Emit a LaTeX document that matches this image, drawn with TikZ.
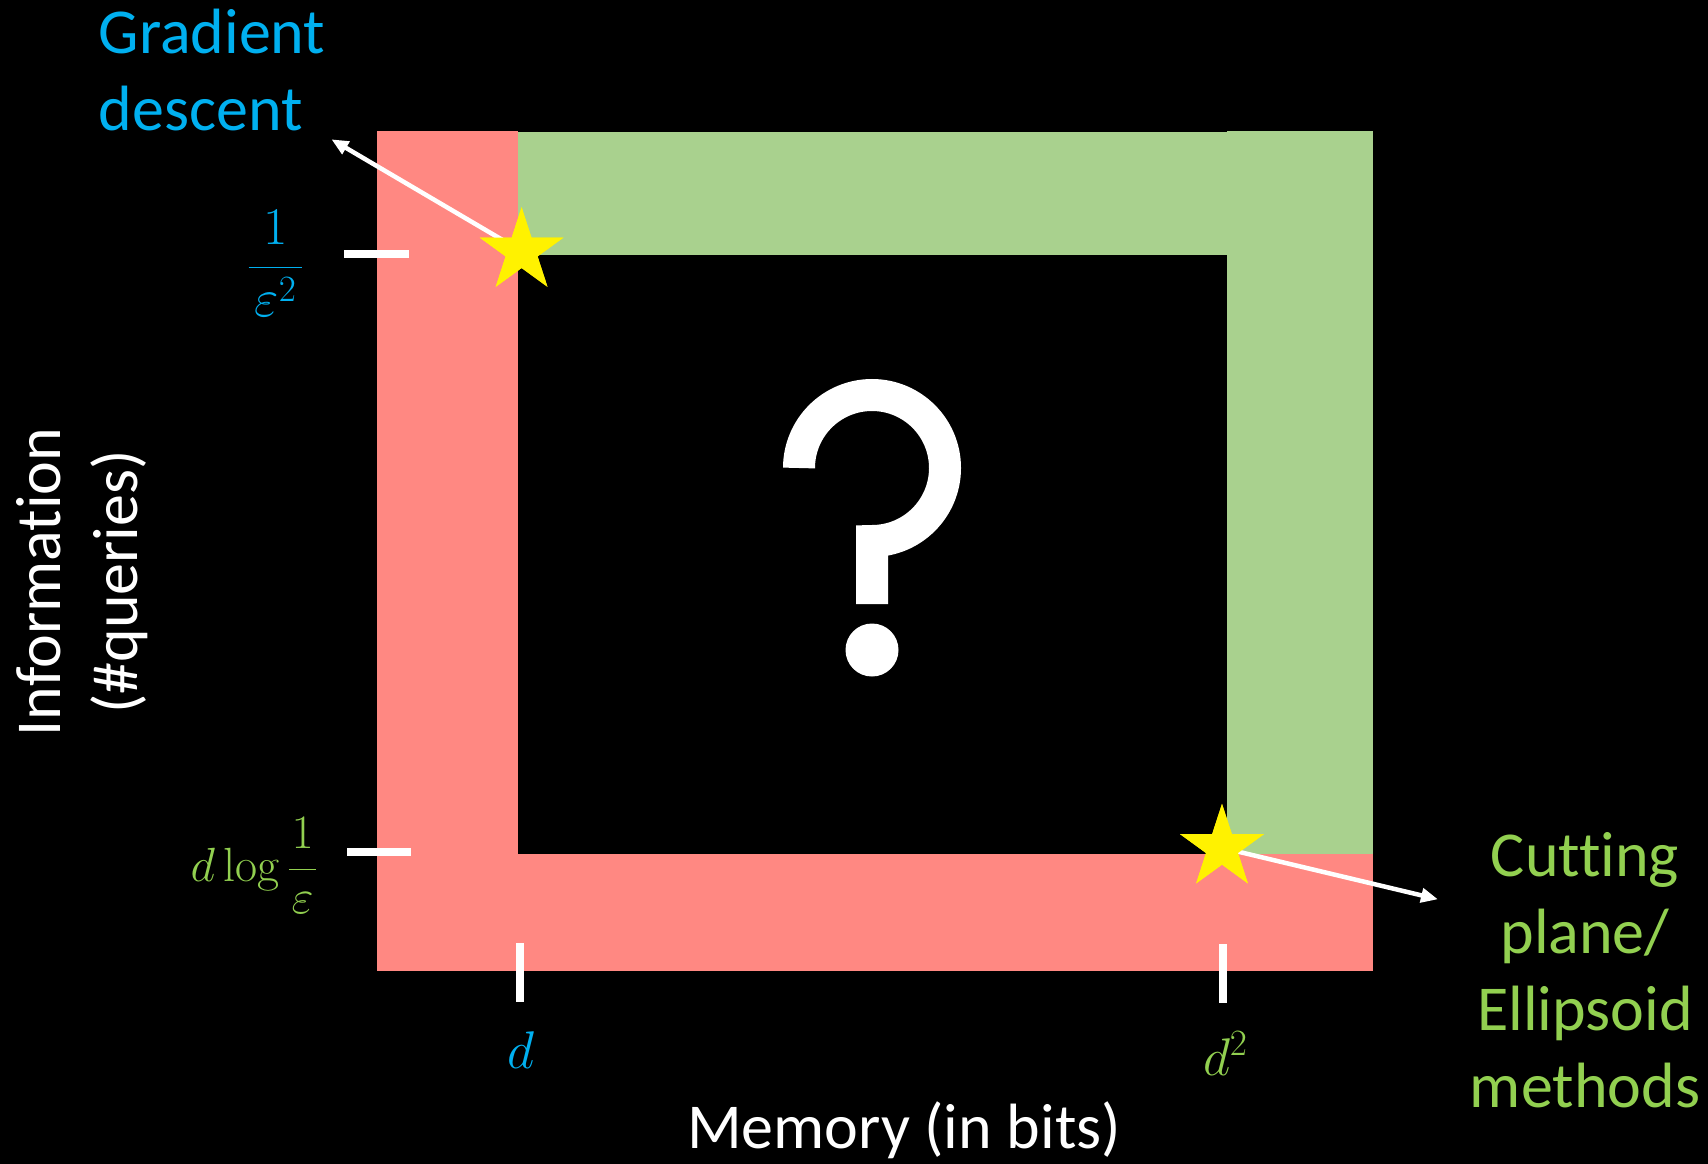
\RequirePackage{fix-cm}
\documentclass[tikz,border=0pt]{standalone}
\usepackage[no-math]{fontspec}
\setmainfont{Carlito}[Ligatures=NoCommon]
\usetikzlibrary{shapes.geometric,arrows.meta}
\definecolor{cyanlab}{HTML}{00B0F0}
\definecolor{greenlab}{HTML}{92D050}
\definecolor{greenfill}{HTML}{A9D18E}
\definecolor{redfill}{HTML}{FF8882}
\begin{document}
\begin{tikzpicture}[x=1pt,y=-1pt,
  tick/.style={white,line width=8pt},
  pointer/.style={white,line width=4.5pt,-{Triangle[length=17pt,width=14pt]}},
  beststar/.style={star,star points=5,star point ratio=2.618,minimum size=88pt,
    inner sep=0pt,fill=yellow,draw=none},
  lbl/.style={inner sep=0pt,outer sep=0pt},
  bigtext/.style={lbl,font=\fontsize{64}{77}\selectfont},
  mathlbl/.style={lbl,font=\fontsize{53}{60}\selectfont}]
% canvas
\fill[black] (0,0) rectangle (1708,1164);
\useasboundingbox (0,0) rectangle (1708,1164);

% regions of the trade-off plane
\fill[redfill] (377,131) rectangle (518,970.7);
\fill[redfill] (377,854) rectangle (1372.7,970.7);
\fill[greenfill] (518,132) rectangle (1227,254.5);
\fill[greenfill] (1227,131) rectangle (1372.7,854);

% axis ticks
\draw[tick] (344,254) -- (409,254);
\draw[tick] (347,852.3) -- (411,852.3);
\draw[tick] (520,943.3) -- (520,1001.7);
\draw[tick] (1223,944.3) -- (1223,1002.7);

% open question in the middle
\draw[white,line width=32pt,line join=miter]
  (799,468) arc[start angle=180,end angle=450,radius=73] -- (872,604);
\fill[white] (872,650) circle[radius=26.5];

% tick labels
\node[mathlbl,text=cyanlab,anchor=base] (qeps) at (275.4,280.2)
  {$\displaystyle\frac{1}{\mkern2mu\varepsilon^{2}\mkern2mu}$};
\node[lbl,text=greenlab,anchor=base west,font=\fontsize{48}{54}\selectfont] (qlog) at (190.7,881)
  {$\displaystyle d\mkern3mu\mathrm{log}\mkern3mu\frac{1}{\mkern1mu\varepsilon\mkern1mu}$};
\node[mathlbl,text=cyanlab,anchor=base] (md) at (521,1068) {$d$};
\node[mathlbl,text=greenlab,anchor=base west] (mdd) at (1203,1075) {$d^{2}$};

% axis titles
\node[bigtext,text=white,anchor=base,rotate=90] (yaxis) at (60.7,582)
  {\begin{tabular}[t]{@{}c@{}}Information\\(\#queries)\end{tabular}};
\node[lbl,text=white,anchor=base,font=\fontsize{64}{70}\selectfont] (xaxis) at (904,1148.3)
  {Memory (in bits)};

% algorithm labels
\node[bigtext,text=cyanlab,anchor=base west] (gd) at (98.7,53.3)
  {\begin{tabular}[t]{@{}l@{}}Gradient\\descent\end{tabular}};
\node[bigtext,text=greenlab,anchor=base] (cp) at (1585,876.7)
  {\begin{tabular}[t]{@{}c@{}}Cutting\\plane/\\Ellipsoid\\methods\end{tabular}};

% pointers from the two known algorithms
\coordinate (gdtip) at (331.4,139.3);
\coordinate (cptip) at (1438,899.3);
\node[beststar] (s1) at (521.6,251.2) {};
\node[beststar] (s2) at (1222,847.8) {};
\draw[pointer] (s1.center) -- (gdtip);
\draw[pointer] (s2.center) -- (cptip);
\node[beststar] at (s1.center) {};
\node[beststar] at (s2.center) {};
\end{tikzpicture}
\end{document}
